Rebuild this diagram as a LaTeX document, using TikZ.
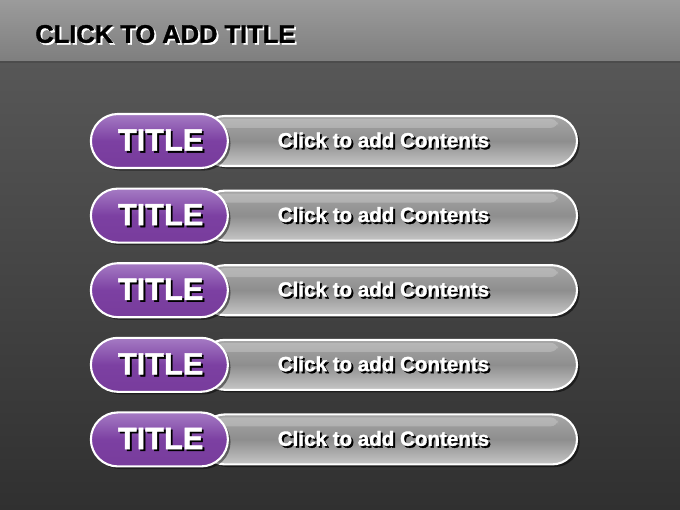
\documentclass[tikz,border=0pt]{standalone}
\usepackage{fontspec}
\setmainfont{Liberation Sans}
\newfontfamily\heavyfont[BoldFeatures={FakeBold=1.5}]{Liberation Sans}
\usetikzlibrary{positioning, shadows}

\definecolor{bandtop}{HTML}{9B9B9B}
\definecolor{bandbot}{HTML}{7E7E7E}
\definecolor{bgtop}{HTML}{575757}
\definecolor{bgbot}{HTML}{303030}
\definecolor{pilltop}{HTML}{A57BC4}
\definecolor{pillmid}{HTML}{7C40A2}
\definecolor{pillbot}{HTML}{783C9C}
\definecolor{bartop}{HTML}{A6A6A6}
\definecolor{barmid}{HTML}{8E8E8E}
\definecolor{barbot}{HTML}{C6C6C6}

% text with an offset shadow behind it
\newcommand\shadowed[3]{\leavevmode\rlap{\kern1.1pt\raisebox{-1.1pt}{\color{#2}#3}}{\color{#1}#3}}

\begin{document}
\begin{tikzpicture}[
    pill/.style={rectangle, draw=white, line width=1.2pt, minimum width=2.74cm, minimum height=1.08cm,
        rounded corners=0.54cm, top color=pilltop, bottom color=pillbot, middle color=pillmid, inner sep=0pt,
        drop shadow={shadow xshift=1.5pt, shadow yshift=-1.5pt, opacity=0.45, fill=black},
        font=\heavyfont\bfseries\fontsize{17.5}{20}\selectfont},
    bar/.style={rectangle, draw=white, line width=1.2pt, minimum width=7.54cm, minimum height=1.0cm,
        rounded corners=0.5cm, top color=bartop, bottom color=barbot, middle color=barmid, inner sep=0pt,
        drop shadow={shadow xshift=1.5pt, shadow yshift=-1.5pt, opacity=0.5, fill=black},
        font=\heavyfont\bfseries\fontsize{11.7}{14}\selectfont},
    gloss/.style={fill=white, opacity=0.22}
]
\useasboundingbox (0,0) rectangle (13.6,10.2);

% background
\fill[top color=bgtop, bottom color=bgbot] (0,0) rectangle (13.6,8.96);
\fill[top color=bandtop, bottom color=bandbot] (0,8.96) rectangle (13.6,10.2);
\draw[black!70, line width=0.6pt] (0,8.96) -- (13.6,8.96);

\node[anchor=west, inner sep=0pt, font=\heavyfont\bfseries\fontsize{14.5}{17}\selectfont] (heading) at (0.7,9.5)
    {\shadowed{black}{white}{CLICK TO ADD TITLE}};

% rows
\node[bar] (bar1) at (7.77,7.38) {\kern-0.2cm\shadowed{white}{black}{Click to add Contents}};
\node[bar, below=0.45cm of bar1] (bar2) {\kern-0.2cm\shadowed{white}{black}{Click to add Contents}};
\node[bar, below=0.45cm of bar2] (bar3) {\kern-0.2cm\shadowed{white}{black}{Click to add Contents}};
\node[bar, below=0.45cm of bar3] (bar4) {\kern-0.2cm\shadowed{white}{black}{Click to add Contents}};
\node[bar, below=0.45cm of bar4] (bar5) {\kern-0.2cm\shadowed{white}{black}{Click to add Contents}};

\foreach \i in {1,...,5}
    \fill[gloss, rounded corners=0.15cm] ([xshift=0.35cm, yshift=-0.08cm]bar\i.north west)
        rectangle ([xshift=-0.4cm, yshift=-0.26cm]bar\i.north east);

\node[pill, anchor=east] (pill1) at ([xshift=0.6cm]bar1.west) {\kern0.05cm\shadowed{white}{black}{TITLE}};
\node[pill, anchor=east] (pill2) at ([xshift=0.6cm]bar2.west) {\kern0.05cm\shadowed{white}{black}{TITLE}};
\node[pill, anchor=east] (pill3) at ([xshift=0.6cm]bar3.west) {\kern0.05cm\shadowed{white}{black}{TITLE}};
\node[pill, anchor=east] (pill4) at ([xshift=0.6cm]bar4.west) {\kern0.05cm\shadowed{white}{black}{TITLE}};
\node[pill, anchor=east] (pill5) at ([xshift=0.6cm]bar5.west) {\kern0.05cm\shadowed{white}{black}{TITLE}};
\end{tikzpicture}
\end{document}
